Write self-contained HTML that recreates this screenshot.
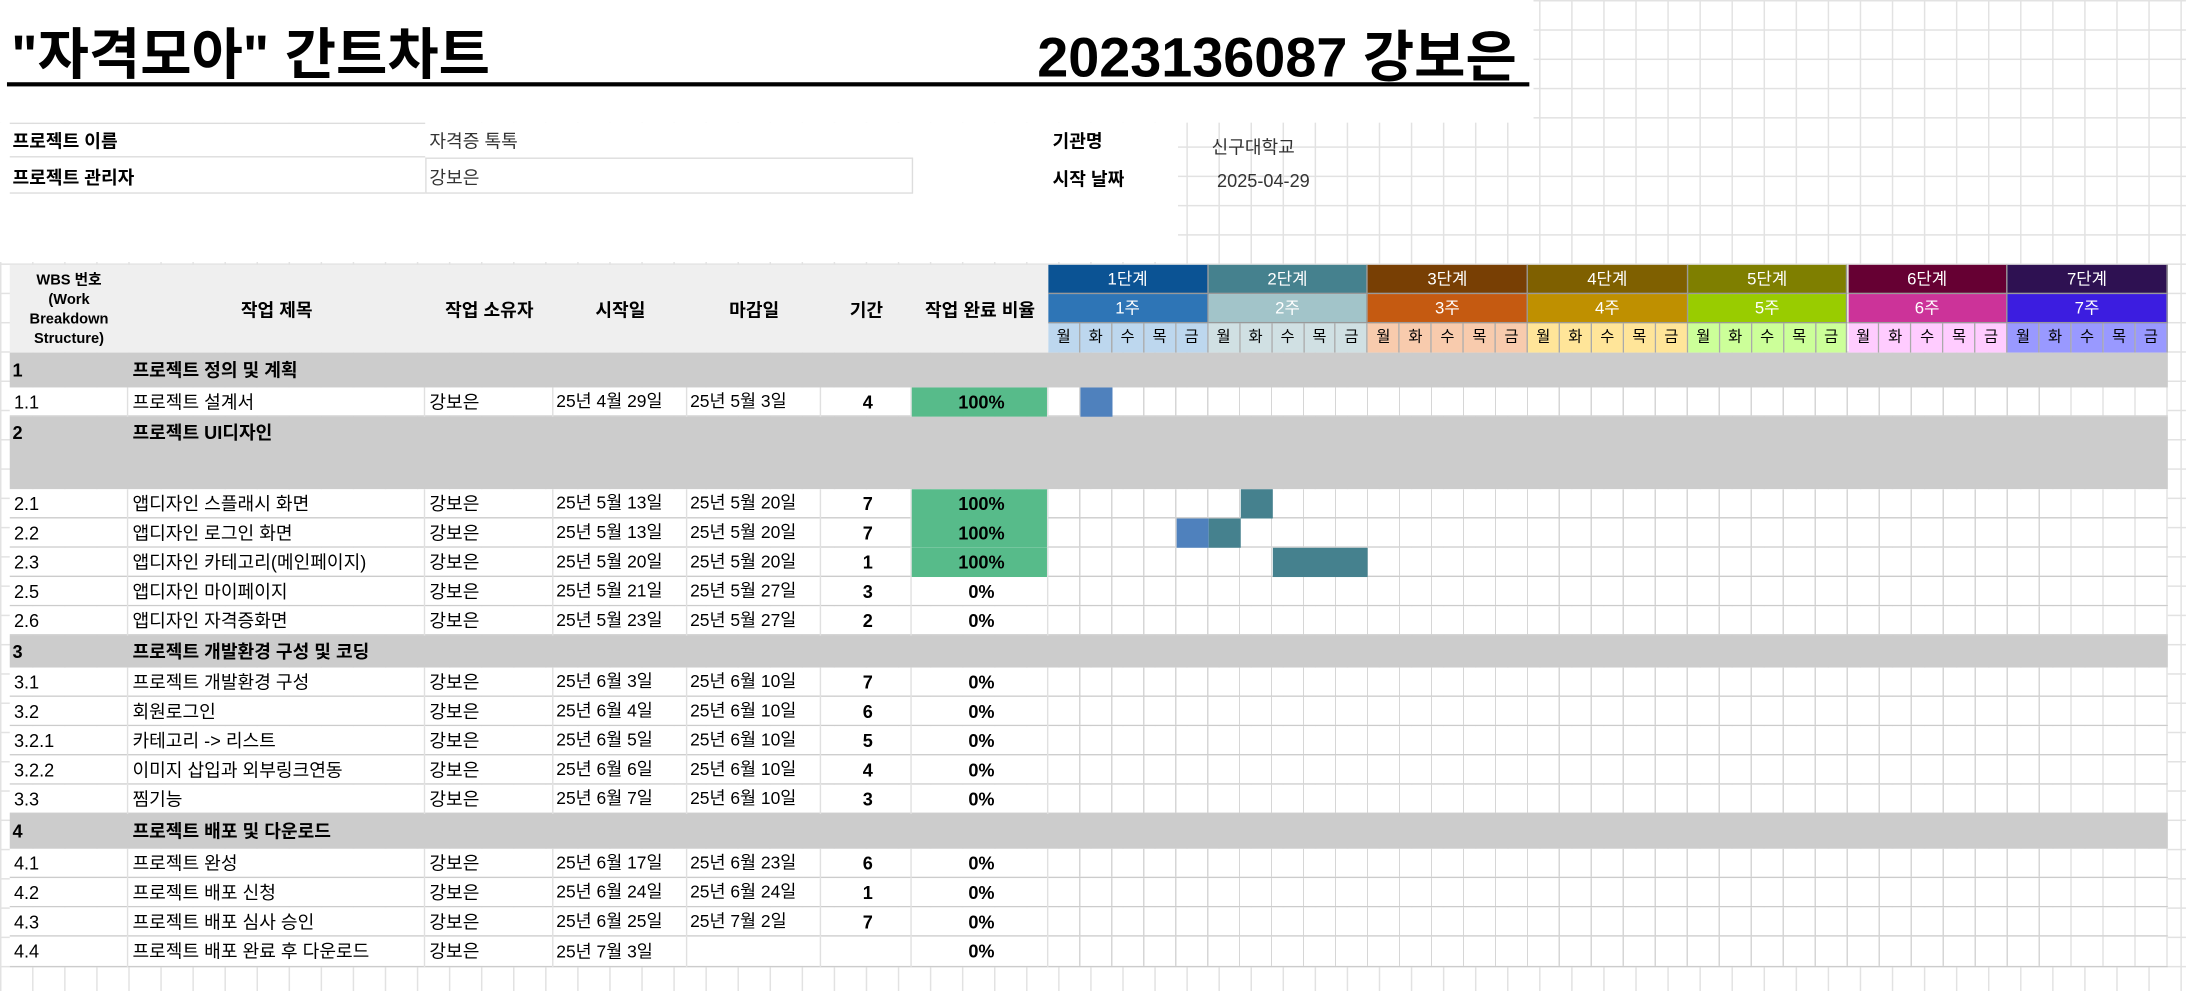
<!DOCTYPE html>
<html><head><meta charset="utf-8">
<style>
html,body{margin:0;padding:0;background:#fff;overflow:hidden;}
#wrap{position:relative;width:1568px;height:711px;transform:scale(1.3941,1.3938);transform-origin:0 0;
 font-family:"Liberation Sans","Noto Sans CJK KR",sans-serif;font-size:13px;color:#000;
 background-image:linear-gradient(#e2e2e2 1px,transparent 1px),linear-gradient(90deg,#e2e2e2 1px,transparent 1px);
 background-size:23px 21px;background-position:0 0;}
.c{position:absolute;box-sizing:border-box;white-space:nowrap;overflow:hidden;}
.t{position:absolute;white-space:nowrap;}
.b{font-weight:bold;}
</style></head><body>
<div id="wrap">
 <div class="c" style="left:0;top:0;width:1100px;height:88px;background:#fff"></div>
 <div class="t b" style="left:8px;top:7px;font-size:40px;">"자격모아" 간트차트</div>
 <div class="t b" style="left:744px;top:9px;font-size:40px;">2023136087 강보은</div>
 <div class="c" style="left:5px;top:59px;width:1092px;height:3px;background:#000"></div>

 <div class="c" style="left:0;top:88px;width:845px;height:100px;background:#fff"></div>
 <div class="c" style="left:7px;top:88px;width:298px;height:25px;border-top:1px solid #ddd;border-bottom:1px solid #ddd"></div>
 <div class="c" style="left:305px;top:113px;width:350px;height:26px;border:1px solid #ddd"></div>
 <div class="c" style="left:7px;top:113px;width:298px;height:26px;border-bottom:1px solid #ddd"></div>
 <div class="t b" style="left:9px;top:91px;">프로젝트 이름</div>
 <div class="t" style="left:308px;top:91px;color:#333">자격증 톡톡</div>
 <div class="t b" style="left:9px;top:117px;">프로젝트 관리자</div>
 <div class="t" style="left:308px;top:117px;color:#333">강보은</div>
 <div class="t b" style="left:755px;top:91px;">기관명</div>
 <div class="t" style="left:869px;top:95px;color:#333">신구대학교</div>
 <div class="t b" style="left:755px;top:118px;">시작 날짜</div>
 <div class="t" style="left:873px;top:122px;color:#333">2025-04-29</div>

 <div id="table"></div>
</div>
<script>
const stages=["1단계","2단계","3단계","4단계","5단계","6단계","7단계"];
const weeks=["1주","2주","3주","4주","5주","6주","7주"];
const dayNames=["월","화","수","목","금"];
const wbs=["1","1.1","2","2.1","2.2","2.3","2.5","2.6","3","3.1","3.2","3.2.1","3.2.2","3.3","4","4.1","4.2","4.3","4.4"];
const titles=["프로젝트 정의 및 계획","프로젝트 설계서","프로젝트 UI디자인","앱디자인 스플래시 화면","앱디자인 로그인 화면","앱디자인 카테고리(메인페이지)","앱디자인 마이페이지","앱디자인 자격증화면","프로젝트 개발환경 구성 및 코딩","프로젝트 개발환경 구성","회원로그인","카테고리 -> 리스트","이미지 삽입과 외부링크연동","찜기능","프로젝트 배포 및 다운로드","프로젝트 완성","프로젝트 배포 신청","프로젝트 배포 심사 승인","프로젝트 배포 완료 후 다운로드"];
const isGroup=[1,0,1,0,0,0,0,0,1,0,0,0,0,0,1,0,0,0,0];
const owners=["","강보은","","강보은","강보은","강보은","강보은","강보은","","강보은","강보은","강보은","강보은","강보은","","강보은","강보은","강보은","강보은"];
const starts=["","25년 4월 29일","","25년 5월 13일","25년 5월 13일","25년 5월 20일","25년 5월 21일","25년 5월 23일","","25년 6월 3일","25년 6월 4일","25년 6월 5일","25년 6월 6일","25년 6월 7일","","25년 6월 17일","25년 6월 24일","25년 6월 25일","25년 7월 3일"];
const ends=["","25년 5월 3일","","25년 5월 20일","25년 5월 20일","25년 5월 20일","25년 5월 27일","25년 5월 27일","","25년 6월 10일","25년 6월 10일","25년 6월 10일","25년 6월 10일","25년 6월 10일","","25년 6월 23일","25년 6월 24일","25년 7월 2일",""];
const durations=["","4","","7","7","1","3","2","","7","6","5","4","3","","6","1","7",""];
const progress=["","100%","","100%","100%","100%","0%","0%","","0%","0%","0%","0%","0%","","0%","0%","0%","0%"];
// gantt bars: row index, start day index, length in days, kind (0=blue,1=teal)
const barRows=[1,3,4,4,5];
const barStartDay=[1,6,4,5,7];
const barLenDays=[1,1,1,1,3];
const barKind=[0,1,0,1,1];

const stageColors=["#0b5394","#45818e","#783f04","#7f6000","#7f7f00","#660033","#2e1152"];
const weekColors=["#2e75b6","#a2c4c9","#c55a11","#bf9000","#99cc00","#cc3399","#3c1de0"];
const dayColors=["#bdd7ee","#d0e0e3","#f8cbad","#ffe599","#ccff99","#ffccff","#9999ff"];
const barColors=["#4f81bd","#45818e"];
const rowHeights=[25,21,52,21,21,21,21,21,23,21,21,21,21,21,25,21,21,21,22];
const colX=[7,92,305,397,493,589,654,752];
const dayX0=752, dayW=22.94, hdrTop=190, hdrH=21;
const T=document.getElementById('table');
function cell(x,y,w,h,css,txt){const d=document.createElement('div');d.className='c';d.style.cssText=`left:${x}px;top:${y}px;width:${w}px;height:${h}px;line-height:${h}px;`+css;if(txt!==undefined)d.textContent=txt;T.appendChild(d);return d;}
function dayPos(i){return dayX0+i*dayW;}
let hd=cell(7,hdrTop,745,63,'background:#efefef;');


const hdrLabels=["WBS 번호 (Work Breakdown Structure)","작업 제목","작업 소유자","시작일","마감일","기간","작업 완료 비율"];
for(let i=0;i<7;i++){const w=colX[i+1]-colX[i];
 const h=cell(colX[i],hdrTop,w,63,'font-weight:bold;text-align:center;');
 
 
 if(i==0){h.style.whiteSpace='normal';h.style.lineHeight='14px';h.style.fontSize='10.5px';h.style.paddingTop='4px';h.innerHTML='WBS 번호<br>(Work<br>Breakdown<br>Structure)';}
 else{h.style.lineHeight='66px';h.textContent=hdrLabels[i];}
}
for(let w=0;w<7;w++){const x=dayPos(w*5),wd=dayW*5;
 const s=cell(x,hdrTop,wd,hdrH,`background:${stageColors[w]};color:#fff;text-align:center;font-size:12px;border-right:1px solid #999;border-bottom:1px solid #999;`,stages[w]);
 
 
 const k=cell(x,hdrTop+hdrH,wd,hdrH,`background:${weekColors[w]};color:#fff;text-align:center;font-size:12px;border-right:1px solid #999;border-bottom:1px solid #999;`,weeks[w]);
 
 
 for(let d=0;d<5;d++){const dc=cell(dayPos(w*5+d),hdrTop+2*hdrH,dayW,hdrH,`background:${dayColors[w]};text-align:center;font-size:11px;border-right:1px solid #aaa;`,dayNames[d]);
  
  }
}
const rowY=[];let y=253;
for(let r=0;r<wbs.length;r++){rowY.push(y);const h=rowHeights[r];
 if(isGroup[r]){const g=cell(7,y,1548,h,'background:#cccccc;');
  
  
  const a=cell(9,y,80,h,'font-weight:bold;line-height:'+(r==2?'24px':h+'px')+';',wbs[r]);
  
  
  const b=cell(95,y,500,h,'font-weight:bold;line-height:'+(r==2?'24px':h+'px')+';',titles[r]);
  
  
 } else {
  const bg=cell(7,y,745,h,'background:#fff;border-bottom:1px solid #ccc;');
  
  
  const vals=[wbs[r],titles[r],owners[r],starts[r],ends[r],durations[r],progress[r]];
  for(let i=0;i<7;i++){const w=colX[i+1]-colX[i];
   let css='border-right:1px solid #e0e0e0;padding-left:3px;';
   if(i==5)css+='text-align:center;font-weight:bold;';
   if(i==6){css+='text-align:center;font-weight:bold;';if(progress[r]=='100%')css+='background:#57bb8a;';}
   if(i==3||i==4)css+='font-size:12.5px;padding-left:2px;';
   const c=cell(colX[i],y,w,h,css,vals[i]);
   
   
  }
  const gr=cell(dayX0,y,dayW*35,h,'background:#fff;border-bottom:1px solid #ccc;background-image:repeating-linear-gradient(90deg,transparent 0,transparent 22px,#d6d6d6 22px,#d6d6d6 22.94px);');
  
  
 }
 y+=h;}
for(let i=0;i<barRows.length;i++){const r=barRows[i];
 const b=cell(dayPos(barStartDay[i]),rowY[r],dayW*barLenDays[i],rowHeights[r],`background:${barColors[barKind[i]]};`);
 
 }
</script>
</body></html>
